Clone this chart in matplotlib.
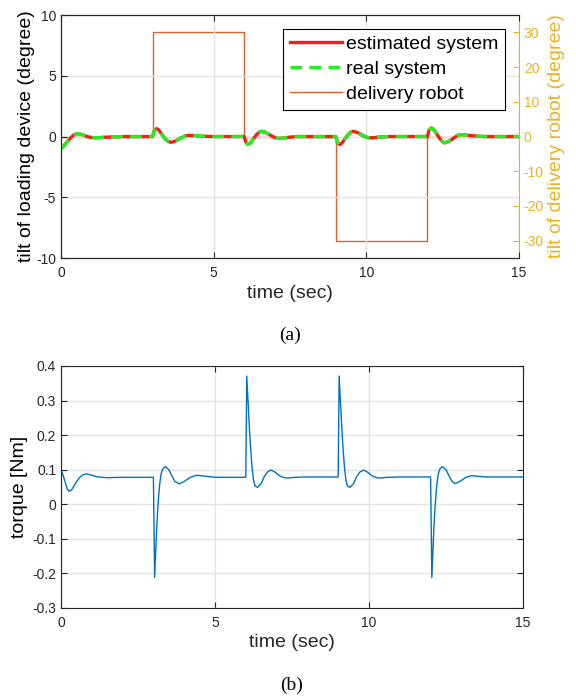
import matplotlib
matplotlib.use('Agg')
import matplotlib.pyplot as plt

plt.rcParams['font.family'] = ['Liberation Sans', 'DejaVu Sans']
plt.rcParams['axes.unicode_minus'] = False

# tilt of loading device (degree)
tilt_t = [0, 0.1, 0.2, 0.3, 0.4, 0.5, 0.6, 0.7, 0.8, 0.9, 1.0, 1.2, 1.5, 2.0, 3.0,
          3.05, 3.13, 3.2, 3.3, 3.4, 3.5, 3.6, 3.7, 3.8, 3.9, 4.0, 4.1, 4.2, 4.4, 4.7, 5.0, 6.0,
          6.05, 6.12, 6.2, 6.3, 6.4, 6.5, 6.57, 6.7, 6.8, 6.9, 7.0, 7.1, 7.2, 7.4, 7.7, 9.0,
          9.05, 9.12, 9.2, 9.3, 9.4, 9.5, 9.57, 9.7, 9.8, 9.9, 10.0, 10.1, 10.2, 10.4, 10.7, 12.0,
          12.05, 12.12, 12.2, 12.3, 12.4, 12.5, 12.56, 12.7, 12.8, 12.9, 13.0, 13.1, 13.2, 13.4,
          13.7, 14.0, 15.0]
estimated_tilt = [-1.0, -0.75, -0.45, -0.15, 0.1, 0.22, 0.22, 0.15, 0.05, -0.03, -0.08, -0.1, -0.05, 0.0, 0.0,
                  0.45, 0.65, 0.55, 0.2, -0.15, -0.4, -0.47, -0.42, -0.3, -0.15, -0.02, 0.07, 0.1, 0.07, 0.02, 0.0, 0.0,
                  -0.45, -0.66, -0.55, -0.2, 0.15, 0.38, 0.43, 0.35, 0.2, 0.05, -0.08, -0.15, -0.15, -0.08, 0.0, 0.0,
                  -0.45, -0.66, -0.55, -0.2, 0.15, 0.38, 0.43, 0.35, 0.2, 0.05, -0.05, -0.1, -0.1, -0.05, 0.0, 0.0,
                  0.5, 0.71, 0.6, 0.25, -0.15, -0.45, -0.52, -0.4, -0.25, -0.05, 0.1, 0.16, 0.15, 0.08,
                  0.02, 0.0, 0.0]
real_tilt = list(estimated_tilt)

# tilt of delivery robot (degree), step changes
robot_t = [0, 3, 6, 9, 12, 15]
robot_tilt = [0, 30, 0, -30, 0, 0]

# torque [Nm]
torque_t = [0, 0.1, 0.2, 0.26, 0.35, 0.45, 0.6, 0.7, 0.83, 1.0, 1.2, 1.5, 2.0, 3.0,
            3.04, 3.1, 3.15, 3.2, 3.25, 3.3, 3.39, 3.5, 3.6, 3.7, 3.84, 4.0, 4.2, 4.4, 4.6, 5.0, 6.0,
            6.03, 6.1, 6.15, 6.2, 6.25, 6.3, 6.38, 6.5, 6.6, 6.7, 6.82, 6.95, 7.1, 7.25, 7.36, 7.6, 8.0, 9.0,
            9.03, 9.1, 9.15, 9.2, 9.25, 9.3, 9.38, 9.5, 9.6, 9.7, 9.82, 9.95, 10.1, 10.25, 10.36, 10.6, 11.0, 12.0,
            12.04, 12.1, 12.15, 12.2, 12.25, 12.3, 12.38, 12.5, 12.6, 12.7, 12.79, 12.95, 13.15, 13.33, 13.5,
            13.8, 15.0]
torque = [0.102, 0.075, 0.045, 0.038, 0.042, 0.058, 0.077, 0.085, 0.088, 0.084, 0.079, 0.077, 0.078, 0.078,
          -0.212, -0.08, 0.0, 0.055, 0.088, 0.102, 0.109, 0.1, 0.082, 0.066, 0.059, 0.066, 0.078, 0.084, 0.082, 0.078, 0.078,
          0.371, 0.25, 0.17, 0.11, 0.07, 0.053, 0.049, 0.06, 0.08, 0.093, 0.099, 0.093, 0.082, 0.077, 0.076, 0.078, 0.079, 0.079,
          0.371, 0.25, 0.17, 0.11, 0.07, 0.053, 0.049, 0.06, 0.08, 0.093, 0.099, 0.093, 0.082, 0.077, 0.076, 0.078, 0.079, 0.079,
          -0.212, -0.08, 0.0, 0.055, 0.088, 0.102, 0.109, 0.1, 0.082, 0.066, 0.06, 0.066, 0.078, 0.083, 0.081,
          0.079, 0.079]

axis_grey = '#262626'
gold = '#EDB120'
orange = '#D9612E'
blue = '#0072BD'

fig = plt.figure(figsize=(5.76, 6.97), dpi=100)

# ---- (a) ----
ax = fig.add_axes([0.1059, 0.6298, 0.7951, 0.3486])
ax2 = ax.twinx()
ax.set_zorder(ax2.get_zorder() + 1)
ax.patch.set_visible(False)

l3, = ax2.plot(robot_t, robot_tilt, drawstyle='steps-post', color=orange, lw=1.0)
ax2.set_ylim(-35, 35)
ax2.set_yticks([-30, -20, -10, 0, 10, 20, 30])
ax2.tick_params(axis='y', colors=gold, direction='in', labelsize=10, length=4)
ax2.spines['right'].set_color(gold)
ax2.set_ylabel('tilt of delivery robot (degree)', color=gold, fontsize=14, labelpad=3)

l1, = ax.plot(tilt_t, estimated_tilt, '-', color='#FF1A1A', lw=2.4)
l2, = ax.plot(tilt_t, real_tilt, '--', color='#22EE22', lw=2.4, dashes=(3.5, 2.2))
ax.set_xlim(0, 15)
ax.set_ylim(-10, 10)
ax.set_xticks([0, 5, 10, 15])
ax.set_yticks([-10, -5, 0, 5, 10])
ax.grid(True, color='#e3e3e3', lw=1)
ax.tick_params(direction='in', colors=axis_grey, labelsize=10, length=4, top=True)
ax.tick_params(axis='x', pad=6)
for s in ['left', 'top', 'bottom']:
    ax.spines[s].set_color(axis_grey)
ax.spines['right'].set_visible(False)
ax.set_xlabel('time (sec)', fontsize=14, color=axis_grey, labelpad=3)
ax.set_ylabel('tilt of loading device (degree)', fontsize=14, color='black', labelpad=1)
leg = ax.legend([l1, l2, l3], ['estimated system', 'real system', 'delivery robot'],
                loc='upper right', fontsize=14, fancybox=False, framealpha=1,
                edgecolor='black', handlelength=2.7, handletextpad=0.2,
                borderpad=0.35, labelspacing=0.38, borderaxespad=0.7)
leg.get_frame().set_linewidth(0.8)

fig.text(0.503, 0.519, '(a)', ha='center', va='center', fontsize=14,
         family=['Liberation Serif', 'DejaVu Serif'])

# ---- (b) ----
bx = fig.add_axes([0.1059, 0.1277, 0.8021, 0.3472])
bx.plot(torque_t, torque, '-', color=blue, lw=1.0)
bx.set_xlim(0, 15)
bx.set_ylim(-0.3, 0.4)
bx.set_xticks([0, 5, 10, 15])
bx.set_yticks([-0.3, -0.2, -0.1, 0, 0.1, 0.2, 0.3, 0.4])
bx.set_yticklabels(['-0.3', '-0.2', '-0.1', '0', '0.1', '0.2', '0.3', '0.4'])
bx.grid(True, color='#e3e3e3', lw=1)
bx.tick_params(direction='in', colors=axis_grey, labelsize=10, length=4, top=True, right=True)
bx.tick_params(axis='x', pad=6)
for s in bx.spines.values():
    s.set_color(axis_grey)
bx.set_xlabel('time (sec)', fontsize=14, color=axis_grey, labelpad=3)
bx.set_ylabel('torque [Nm]', fontsize=14, color='black', labelpad=3)

fig.text(0.506, 0.017, '(b)', ha='center', va='center', fontsize=14,
         family=['Liberation Serif', 'DejaVu Serif'])

fig.savefig('out.png', dpi=100)
